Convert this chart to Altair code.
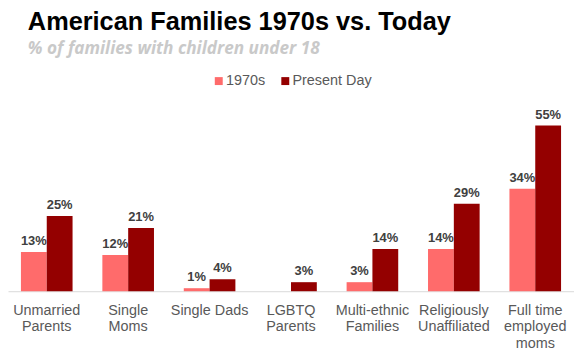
import altair as alt
import pandas as pd

categories = ["Unmarried\nParents", "Single\nMoms", "Single Dads", "LGBTQ\nParents",
              "Multi-ethnic\nFamilies", "Religiously\nUnaffiliated", "Full time\nemployed\nmoms"]
series = ["1970s", "Present Day"]
values_1970s = [13, 12, 1, None, 3, 14, 34]
values_today = [25, 21, 4, 3, 14, 29, 55]
colors = ["#ff6b6b", "#940000"]

rows = []
for c, a, b in zip(categories, values_1970s, values_today):
    rows.append({"category": c, "series": series[0], "value": a})
    rows.append({"category": c, "series": series[1], "value": b})
df = pd.DataFrame(rows)

x = alt.X("category:N", sort=categories,
          scale=alt.Scale(paddingInner=0.366, paddingOuter=0.159),
          axis=alt.Axis(title=None, labelAngle=0, labelExpr="split(datum.label, '\\n')",
                        ticks=False, domainColor="#d9d9d9", domainWidth=1,
                        labelColor="#595959", labelFontSize=14.5, labelFont="Liberation Sans",
                        labelLineHeight=17, labelPadding=12, labelOverlap=False, labelLimit=0))
xo = alt.XOffset("series:N", sort=series)
y = alt.Y("value:Q", scale=alt.Scale(domain=[0, 60]), axis=None)

bars = alt.Chart(df).mark_bar().encode(
    x=x, xOffset=xo, y=y,
    color=alt.Color("series:N", sort=series,
                    scale=alt.Scale(domain=series, range=colors),
                    legend=alt.Legend(title=None, orient="none", legendX=205, legendY=-37,
                                      direction="horizontal", symbolType="square",
                                      symbolSize=64, symbolStrokeWidth=0,
                                      labelFontSize=14.5, labelColor="#595959",
                                      labelFont="Liberation Sans", columnPadding=12,
                                      labelOffset=0, padding=0)),
)

labels = alt.Chart(df).transform_filter("isValid(datum.value)").transform_calculate(
    lbl="datum.value + '%'"
).mark_text(dy=-7, baseline="alphabetic", fontWeight="bold", fontSize=13,
            color="#404040", font="Liberation Sans").encode(
    x=x, xOffset=xo, y=y, text="lbl:N"
)

chart = alt.layer(bars, labels).properties(
    width=570, height=182,
    padding={"left": 0, "top": 102, "right": 0, "bottom": 62},
    autosize="none",
    title=alt.TitleParams(text="American Families 1970s vs. Today",
                          subtitle="% of families with children under 18",
                          anchor="start", fontSize=25.5, font="Liberation Sans",
                          fontWeight="bold", color="#000000",
                          subtitleFont="Open Sans", subtitleFontSize=17.3,
                          subtitleFontStyle="italic", subtitleFontWeight="bold",
                          subtitleColor="#c9c9c9", subtitlePadding=4, dx=20, offset=17),
).configure_view(stroke=None)

chart.save("out.html", embed_options={"renderer": "svg", "actions": False})
